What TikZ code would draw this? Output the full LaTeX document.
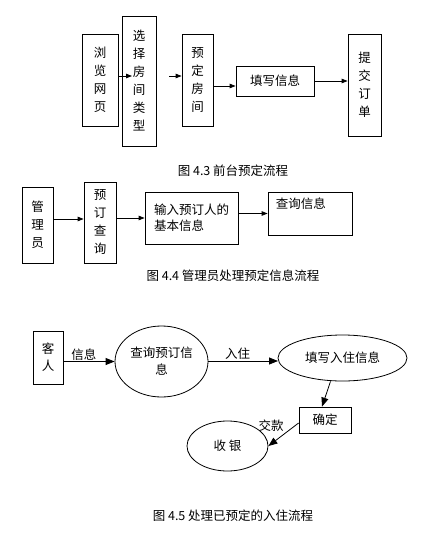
\documentclass[tikz,border=0pt]{standalone}
\usepackage{fontspec}
\setmainfont{Noto Sans CJK SC}
\usetikzlibrary{arrows.meta,shapes.geometric}

\begin{document}
\begin{tikzpicture}[x=1pt,y=-1pt,>={Triangle[length=6pt,width=4.5pt]},
  box/.style={draw,line width=0.8pt,inner sep=0pt,align=center,font=\fontsize{12.5}{18}\selectfont},
  oval/.style={draw,ellipse,line width=0.8pt,inner sep=0pt,align=center,font=\fontsize{12.5}{17}\selectfont},
  captxt/.style={font=\fontsize{12.5}{15}\selectfont},
  lbl/.style={font=\fontsize{12.5}{15}\selectfont,inner sep=1pt},
  big/.style={-{Triangle[length=9pt,width=7pt]}}]
\useasboundingbox (0,0) rectangle (425,551);
% fig 4.3
\node[box,minimum width=36pt,minimum height=92pt] (lan) at (100,80) {浏\\览\\网\\页};
\node[box,minimum width=34pt,minimum height=130pt] (xuan) at (139,81) {选\\择\\房\\间\\类\\型};
\node[box,minimum width=31pt,minimum height=92pt] (yuding) at (197.5,80) {预\\定\\房\\间};
\node[box,minimum width=78pt,minimum height=30pt] (tianxie) at (275,81) {填写信息};
\node[box,minimum width=33pt,minimum height=102pt] (tijiao) at (364.5,85) {提\\交\\订\\单};
\coordinate (a1) at (169,76);
\draw[->,line width=0.8pt] (lan.east |- 0,76) -- (132,76);
\draw[->,line width=0.8pt] (a1) -- (a1 -| yuding.west);
\draw[->,line width=0.8pt] (yuding.east |- 0,86) -- (tianxie.west |- 0,86);
\draw[->,line width=0.8pt] (tianxie.east) -- (tianxie.east -| tijiao.west);
\node[captxt] (cap3) at (233,171) {图 4.3 前台预定流程};
% fig 4.4
\node[box,minimum width=31pt,minimum height=76pt] (guanli) at (37.5,225) {管\\理\\员};
\node[box,minimum width=32pt,minimum height=81pt] (ydcx) at (100,222.5) {预\\订\\查\\询};
\node[box,minimum width=93pt,minimum height=52pt,align=left,font=\fontsize{12.5}{16}\selectfont] (shuru) at (191.5,218) {输入预订人的\\基本信息};
\node[box,minimum width=84pt,minimum height=43pt] (cxxx) at (310,213.5) {};
\node[lbl,anchor=north west] (cxtext) at ([xshift=7pt,yshift=-5pt]cxxx.north west) {查询信息};
\draw[->,line width=0.8pt] (guanli.east |- 0,219) -- (ydcx.west |- 0,219);
\draw[->,line width=0.8pt] (ydcx.east |- shuru.west) -- (shuru.west);
\draw[->,line width=0.8pt] (shuru.east |- cxxx.west) -- (cxxx.west);
\node[captxt] (cap4) at (233,276) {图 4.4 管理员处理预定信息流程};
% fig 4.5
\node[box,minimum width=30pt,minimum height=53pt,font=\fontsize{12.5}{17}\selectfont] (keren) at (48,357.5) {客\\人};
\node[oval,minimum width=93pt,minimum height=71pt] (cxyd) at (161.5,361.5) {查询预订信\\息};
\node[oval,minimum width=129pt,minimum height=46pt] (txrz) at (342.5,358) {填写入住信息};
\node[box,minimum width=52pt,minimum height=26pt] (queding) at (325,420) {确定};
\node[oval,minimum width=81pt,minimum height=50pt] (shouyin) at (227.5,446) {收\ 银};
\draw[big,line width=0.8pt] (keren.east |- cxyd.west) -- (cxyd.west) node[lbl,above,pos=0.4] {信息};
\draw[big,line width=0.8pt] (cxyd.east |- 0,361) -- (278,361) node[lbl,above,pos=0.42] {入住};
\draw[big,line width=0.8pt] ([xshift=-12pt]txrz.south) -- ([xshift=-3pt]queding.north);
\draw[big,line width=0.8pt] ([yshift=-3pt]queding.west) -- (shouyin.east) node[lbl,above left=0pt,pos=0.45] {交款};
\node[captxt] (cap5) at (233,516) {图 4.5 处理已预定的入住流程};
\end{tikzpicture}
\end{document}
